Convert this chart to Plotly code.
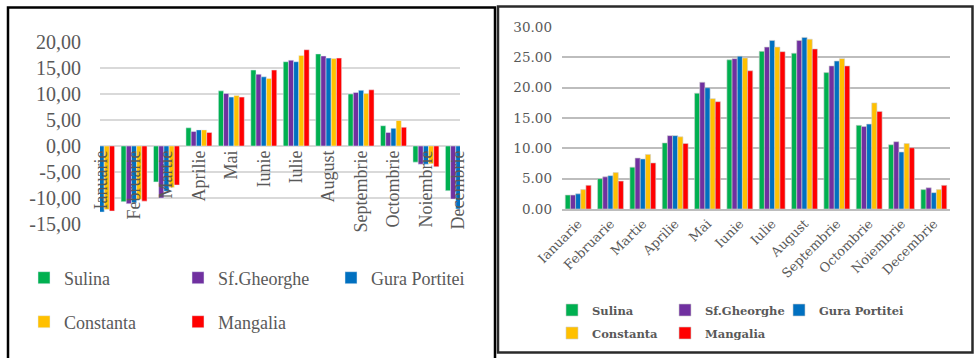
import plotly.graph_objects as go

# Month categories (Romanian)
luni = ["Ianuarie", "Februarie", "Martie", "Aprilie", "Mai", "Iunie", "Iulie",
        "August", "Septembrie", "Octombrie", "Noiembrie", "Decembrie"]

statii = ["Sulina", "Sf.Gheorghe", "Gura Portitei", "Constanta", "Mangalia"]
culori = ["#00b050", "#7030a0", "#0070c0", "#ffc000", "#ff0000"]

# Left panel: values that go below zero in winter
stanga_sulina = [-11.6, -10.7, -6.9, 3.5, 10.6, 14.6, 16.2, 17.7, 10.0, 3.9, -3.1, -8.6]
stanga_sfgheorghe = [-12.0, -11.1, -10.0, 2.8, 10.1, 13.8, 16.5, 17.3, 10.3, 2.6, -3.5, -10.2]
stanga_gura = [-12.7, -10.9, -8.7, 3.1, 9.4, 13.3, 16.2, 16.9, 10.7, 3.4, -3.5, -12.1]
stanga_constanta = [-12.2, -10.3, -8.0, 3.1, 9.7, 13.0, 17.4, 16.8, 10.1, 4.9, -3.4, -11.5]
stanga_mangalia = [-12.5, -10.6, -7.5, 2.6, 9.4, 14.6, 18.5, 16.9, 10.8, 3.6, -4.0, -12.0]

# Right panel: positive values
dreapta_sulina = [2.3, 5.0, 6.9, 10.9, 19.1, 24.6, 26.0, 25.7, 22.5, 13.8, 10.6, 3.2]
dreapta_sfgheorghe = [2.3, 5.3, 8.4, 12.1, 20.9, 24.8, 26.7, 27.8, 23.6, 13.6, 11.1, 3.5]
dreapta_gura = [2.5, 5.5, 8.25, 12.1, 20.0, 25.2, 27.8, 28.3, 24.4, 14.0, 9.4, 2.7]
dreapta_constanta = [3.2, 6.0, 9.0, 11.9, 18.2, 24.9, 26.7, 28.0, 24.8, 17.5, 10.8, 3.2]
dreapta_mangalia = [3.9, 4.6, 7.6, 10.8, 17.7, 22.8, 25.95, 26.4, 23.6, 16.1, 10.1, 3.9]

stanga_ticks = [20, 15, 10, 5, 0, -5, -10, -15]
stanga_ticktext = ["20,00", "15,00", "10,00", "5,00", "0,00", "-5,00", "-10,00", "-15,00"]
dreapta_ticks = [0, 5, 10, 15, 20, 25, 30]

stanga = [stanga_sulina, stanga_sfgheorghe, stanga_gura, stanga_constanta, stanga_mangalia]
dreapta = [dreapta_sulina, dreapta_sfgheorghe, dreapta_gura, dreapta_constanta, dreapta_mangalia]

W, H = 974, 358


def px_x(v):
    return v / W


def px_y(v):
    return 1 - v / H


GRI_TEXT = "#595959"
SERIF_L = "Liberation Serif"
SERIF_R = "DejaVu Serif"

# Legend entry anchors (pixel x of entry start, pixel y of row centre), one per station
leg_stanga_pos = [(24, 278), (178, 278), (331, 278), (24, 322), (178, 322)]
leg_dreapta_pos = [(552, 310), (665, 310), (779, 310), (552, 333), (665, 333)]

fig = go.Figure()

for i, nume in enumerate(statii):
    fig.add_trace(go.Bar(
        x=luni, y=stanga[i], name=nume, marker_color=culori[i], showlegend=True,
        xaxis="x", yaxis="y", legend="legend" if i == 0 else f"legend{i + 1}",
    ))

for i, nume in enumerate(statii):
    fig.add_trace(go.Bar(
        x=luni, y=dreapta[i], name=nume, marker_color=culori[i], showlegend=True,
        marker_line=dict(color="#cfcfcf", width=0.6),
        xaxis="x2", yaxis="y2", legend=f"legend{i + 6}",
    ))

legend_l_font = dict(family=SERIF_L, size=18, color=GRI_TEXT)
legend_r_font = dict(family=SERIF_R, size=11.5, color=GRI_TEXT, weight="bold")

legends = {}
for i, (lx, ly) in enumerate(leg_stanga_pos):
    key = "legend" if i == 0 else f"legend{i + 1}"
    legends[key] = dict(orientation="h", x=px_x(lx), y=px_y(ly), xanchor="left",
                        yanchor="middle", font=legend_l_font, bgcolor="rgba(0,0,0,0)",
                        visible=True)
for i, (lx, ly) in enumerate(leg_dreapta_pos):
    legends[f"legend{i + 6}"] = dict(orientation="h", x=px_x(lx), y=px_y(ly), xanchor="left",
                                     yanchor="middle", font=legend_r_font,
                                     bgcolor="rgba(0,0,0,0)", visible=True)

fig.update_layout(
    width=W, height=H,
    showlegend=True,
    margin=dict(l=0, r=0, t=0, b=0, autoexpand=False),
    paper_bgcolor="white", plot_bgcolor="white",
    barmode="group", bargap=0.2, bargroupgap=0,
    xaxis=dict(
        domain=[px_x(100), px_x(460)], type="category", range=[-0.05, 11.05],
        anchor="free", position=px_y(146), showgrid=False, zeroline=False,
        showline=False, ticks="", tickangle=-90, automargin=False,
        tickfont=dict(family=SERIF_L, size=18, color=GRI_TEXT),
    ),
    yaxis=dict(
        domain=[px_y(224.3), px_y(41.7)], range=[-15.05, 20.05], anchor="x",
        tickvals=stanga_ticks, ticktext=stanga_ticktext, automargin=False,
        gridcolor="#d9d9d9", gridwidth=2, zeroline=True, zerolinecolor="#d9d9d9",
        zerolinewidth=2, showline=False, ticks="", ticklabelstandoff=18,
        tickfont=dict(family=SERIF_L, size=20, color=GRI_TEXT),
    ),
    xaxis2=dict(
        domain=[px_x(562), px_x(950)], type="category", range=[-0.5, 11.5],
        anchor="y2", showgrid=False, zeroline=False, showline=True, automargin=False,
        linecolor="#bdbdbd", linewidth=2, ticks="", tickangle=-45,
        tickfont=dict(family=SERIF_R, size=13, color=GRI_TEXT),
    ),
    yaxis2=dict(
        domain=[px_y(209), px_y(26.8)], range=[0, 30.05], anchor="x2",
        tickvals=dreapta_ticks, tickformat=".2f", automargin=False,
        gridcolor="#bdbdbd", gridwidth=2, zeroline=False, showline=False,
        ticks="", ticklabelstandoff=9,
        tickfont=dict(family=SERIF_R, size=13.5, color=GRI_TEXT),
    ),
    shapes=[
        dict(type="rect", xref="paper", yref="paper",
             x0=px_x(8), x1=px_x(495), y0=px_y(372), y1=px_y(7.5),
             line=dict(color="black", width=2.5), fillcolor="rgba(0,0,0,0)"),
        dict(type="rect", xref="paper", yref="paper",
             x0=px_x(498), x1=px_x(972.5), y0=px_y(352.5), y1=px_y(6.5),
             line=dict(color="#2a2a2a", width=2.5), fillcolor="rgba(0,0,0,0)"),
    ],
    **legends,
)

fig.write_html("out.html")
